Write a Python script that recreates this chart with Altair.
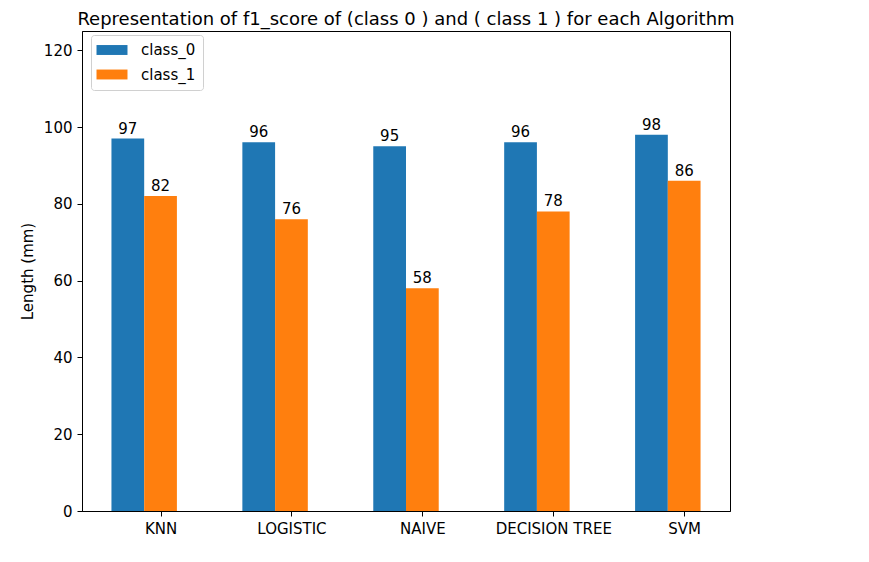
import altair as alt
import pandas as pd

algorithms = ["KNN", "LOGISTIC", "NAIVE", "DECISION TREE", "SVM"]
class_0 = [97, 96, 95, 96, 98]
class_1 = [82, 76, 58, 78, 86]
series = ["class_0", "class_1"]
colors = ["#1f77b4", "#ff7f0e"]
y_ticks = [0, 20, 40, 60, 80, 100, 120]

BAR_W = 0.25
rows = []
for i, alg in enumerate(algorithms):
    for k, (name, vals) in enumerate(zip(series, [class_0, class_1])):
        left = i + k * BAR_W - BAR_W / 2
        rows.append({"algorithm": alg, "series": name, "value": vals[i],
                     "x0": left, "x1": left + BAR_W, "xc": left + BAR_W / 2})
df = pd.DataFrame(rows)

tick_pos = [i + BAR_W for i in range(len(algorithms))]
arr = "[" + ",".join("'" + a + "'" for a in algorithms) + "]"
label_expr = arr + "[floor(datum.value)]"

FONT = "DejaVu Sans"

xscale = alt.Scale(domain=[-0.35, 4.6], nice=False, zero=False, padding=0)
yscale = alt.Scale(domain=[0, 125], nice=False, padding=0)

base = alt.Chart(df)

bars = base.mark_bar(orient="vertical").encode(
    x=alt.X("x0:Q", scale=xscale,
            axis=alt.Axis(values=tick_pos, labelExpr=label_expr, title=None,
                          grid=False, labelPadding=5)),
    x2="x1:Q",
    y=alt.Y("value:Q", scale=yscale,
            axis=alt.Axis(values=y_ticks, title="Length (mm)", grid=False,
                          labelPadding=5, titlePadding=8)),
    y2=alt.datum(0),
    color=alt.Color("series:N",
                    scale=alt.Scale(domain=series, range=colors),
                    legend=alt.Legend(
                        title=None, orient="none", legendX=9, legendY=4,
                        symbolType="M-2,-0.64L2,-0.64L2,0.64L-2,0.64Z",
                        symbolSize=240, symbolStrokeWidth=0, symbolOpacity=1,
                        symbolOffset=6,
                        labelFontSize=15, labelFont=FONT, labelColor="black",
                        labelOffset=21, rowPadding=8.5,
                        padding=7, strokeColor="#d0d0d0", fillColor="white",
                        cornerRadius=3)),
)

texts = base.mark_text(baseline="alphabetic", dy=-5, fontSize=15, font=FONT,
                       color="black").encode(
    x="xc:Q",
    y="value:Q",
    text="value:Q",
)

chart = (bars + texts).properties(
    width=648, height=480,
    title=alt.TitleParams(
        "Representation of f1_score of (class 0 ) and ( class 1 ) for each Algorithm",
        fontSize=18, fontWeight="normal", font=FONT, color="black",
        anchor="middle", offset=2),
    autosize=alt.AutoSizeParams(type="none"),
    padding={"left": 74, "top": 23, "right": 20, "bottom": 40},
).configure_view(
    stroke="black", strokeWidth=1
).configure_axis(
    labelFont=FONT, labelFontSize=15, labelColor="black",
    titleFont=FONT, titleFontSize=15, titleFontWeight="normal", titleColor="black",
    domainColor="black", tickColor="black", tickSize=5, tickWidth=1,
)

chart.save("out.html", embed_options={"renderer": "svg", "actions": False})
